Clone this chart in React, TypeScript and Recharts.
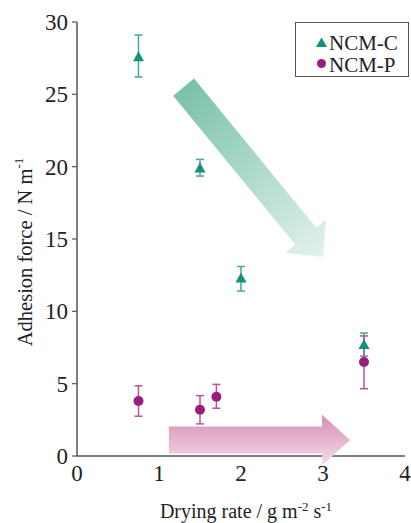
import React from 'react';
import { ScatterChart, Scatter, XAxis, YAxis, ErrorBar, ReferenceArea, Legend } from 'recharts';

// ---- data ----
const seriesNames = ['NCM-C', 'NCM-P'];
const ncmCX = [0.75, 1.5, 2.0, 3.5];
const ncmCY = [27.6, 19.9, 12.3, 7.7];
const ncmCErrLow = [1.4, 0.55, 0.9, 0.8];
const ncmCErrHigh = [1.5, 0.6, 0.8, 0.8];
const ncmPX = [0.75, 1.5, 1.7, 3.5];
const ncmPY = [3.8, 3.2, 4.1, 6.5];
const ncmPErrLow = [1.05, 0.98, 0.8, 1.85];
const ncmPErrHigh = [1.05, 0.97, 0.85, 1.8];
const xTicks = [0, 1, 2, 3, 4];
const yTicks = [0, 5, 10, 15, 20, 25, 30];
// annotation arrows (data units)
const tealArrow = { x1: 1.3, y1: 25.5, x2: 3.0, y2: 13.75 };
const pinkArrow = { x1: 1.12, y1: 2.85, x2: 3.33, y2: -0.65 };

const tealColor = '#14937c';
const tealErr = '#45a896';
const magColor = '#9b1b80';
const magErr = '#b5559c';
const font = '"Liberation Serif", "Times New Roman", serif';

const build = (xs: number[], ys: number[], lo: number[], hi: number[]) =>
  xs.map((x, i) => ({ x, y: ys[i], err: [lo[i], hi[i]] }));
const dataC = build(ncmCX, ncmCY, ncmCErrLow, ncmCErrHigh);
const dataP = build(ncmPX, ncmPY, ncmPErrLow, ncmPErrHigh);

const Triangle = (p: any) => {
  const { cx, cy } = p;
  if (cx == null || cy == null) return null;
  return <polygon points={`${cx - 5.5},${cy + 4.5} ${cx + 5.5},${cy + 4.5} ${cx},${cy - 5.5}`} fill={tealColor} />;
};
const Dot = (p: any) => {
  const { cx, cy } = p;
  if (cx == null || cy == null) return null;
  return <circle cx={cx} cy={cy} r={5} fill={magColor} />;
};

function arrowPoints(sx: number, sy: number, tx: number, ty: number, sh: number, hh: number, hl: number) {
  const dx = tx - sx, dy = ty - sy;
  const L = Math.hypot(dx, dy);
  const ux = dx / L, uy = dy / L;
  const nx = -uy, ny = ux;
  const bx = tx - ux * hl, by = ty - uy * hl;
  const pts = [
    [sx + nx * sh, sy + ny * sh],
    [bx + nx * sh, by + ny * sh],
    [bx + nx * hh, by + ny * hh],
    [tx, ty],
    [bx - nx * hh, by - ny * hh],
    [bx - nx * sh, by - ny * sh],
    [sx - nx * sh, sy - ny * sh],
  ];
  return pts.map((p) => `${p[0]},${p[1]}`).join(' ');
}

const TealArrowShape = (p: any) => {
  const { x, y, width, height } = p;
  const sx = x, sy = y, tx = x + width, ty = y + height;
  return (
    <g>
      <defs>
        <linearGradient id="tealGrad" gradientUnits="userSpaceOnUse" x1={sx} y1={sy} x2={tx} y2={ty}>
          <stop offset="0%" stopColor="#7ac1ac" />
          <stop offset="100%" stopColor="#e2f2ed" />
        </linearGradient>
      </defs>
      <polygon points={arrowPoints(sx, sy, tx, ty, 13.5, 26, 27)} fill="url(#tealGrad)" />
    </g>
  );
};

const PinkArrowShape = (p: any) => {
  const { x, y, width, height } = p;
  const cy = y + height / 2;
  return (
    <g>
      <defs>
        <linearGradient id="pinkGrad" gradientUnits="userSpaceOnUse" x1={0} y1={y} x2={0} y2={y + height}>
          <stop offset="0%" stopColor="#d48fb6" />
          <stop offset="100%" stopColor="#f5dde9" />
        </linearGradient>
      </defs>
      <polygon points={arrowPoints(x, cy, x + width, cy, 13.5, height / 2, 28)} fill="url(#pinkGrad)" />
    </g>
  );
};

const LegendBox = () => (
  <svg width={114} height={55} style={{ display: 'block' }}>
    <rect x={0.5} y={0.5} width={113} height={54} fill="#fff" stroke="#555" strokeWidth={1} />
    <polygon points="21,25 32,25 26.5,15.5" fill={tealColor} />
    <text x={34} y={27.5} fontFamily={font} fontSize={21} fill="#222">{seriesNames[0]}</text>
    <circle cx={26.5} cy={41.5} r={4.5} fill={magColor} />
    <text x={34} y={49.5} fontFamily={font} fontSize={21} fill="#222">{seriesNames[1]}</text>
  </svg>
);

const XTitle = (p: any) => {
  const vb = p.viewBox || {};
  const cx = vb.x + vb.width / 2 + 5;
  const y = vb.y + 62;
  return (
    <text x={cx} y={y} textAnchor="middle" fontFamily={font} fontSize={20} fill="#222">
      <tspan>Drying rate / g m</tspan>
      <tspan dy={-7} fontSize={13}>-2</tspan>
      <tspan dy={7}> s</tspan>
      <tspan dy={-7} fontSize={13}>-1</tspan>
    </text>
  );
};

const YTitle = (p: any) => {
  const vb = p.viewBox || {};
  const cx = vb.x + 25;
  const cy = vb.y + vb.height / 2 + 13;
  return (
    <text x={cx} y={cy} textAnchor="middle" fontFamily={font} fontSize={20.5} fill="#222"
      transform={`rotate(-90, ${cx}, ${cy})`} dominantBaseline="central">
      <tspan>Adhesion force / N m</tspan>
      <tspan dy={-7} fontSize={13}>-1</tspan>
    </text>
  );
};

export default function App() {
  return (
    <div style={{ position: 'absolute', left: 0, top: 0, background: '#fff', fontFamily: font }}>
      <ScatterChart width={411} height={523} margin={{ top: 22, right: 6, bottom: 0, left: 0 }} style={{ fontFamily: font }}>
        <XAxis
          type="number"
          dataKey="x"
          domain={[0, 4]}
          ticks={xTicks}
          height={67}
          tickLine={false}
          tickSize={8}
          tickMargin={1}
          axisLine={{ stroke: '#555', strokeWidth: 1.5 }}
          tick={{ fill: '#222', fontSize: 23, fontFamily: font }}
          label={<XTitle />}
        />
        <YAxis
          type="number"
          dataKey="y"
          domain={[0, 30]}
          ticks={yTicks}
          width={77}
          tickSize={5}
          tickMargin={4}
          axisLine={{ stroke: '#555', strokeWidth: 1.5 }}
          tickLine={{ stroke: '#555', strokeWidth: 1.2 }}
          tick={{ fill: '#222', fontSize: 23, fontFamily: font }}
          label={<YTitle />}
        />
        <ReferenceArea x1={tealArrow.x1} x2={tealArrow.x2} y1={tealArrow.y1} y2={tealArrow.y2}
          ifOverflow="visible" shape={(p: any) => <TealArrowShape {...p} />} />
        <ReferenceArea x1={pinkArrow.x1} x2={pinkArrow.x2} y1={pinkArrow.y1} y2={pinkArrow.y2}
          ifOverflow="visible" zIndex={550} shape={(p: any) => <PinkArrowShape {...p} />} />
        <Legend
          layout="vertical"
          align="center"
          verticalAlign="middle"
          wrapperStyle={{ left: 295, top: 22, width: 114, height: 55 }}
          content={() => <LegendBox />}
        />
        <Scatter name={seriesNames[0]} data={dataC} fill={tealColor} shape={<Triangle />} isAnimationActive={false}>
          <ErrorBar dataKey="err" direction="y" width={4} stroke={tealErr} strokeWidth={1.5} />
        </Scatter>
        <Scatter name={seriesNames[1]} data={dataP} fill={magColor} shape={<Dot />} isAnimationActive={false}>
          <ErrorBar dataKey="err" direction="y" width={4} stroke={magErr} strokeWidth={1.5} />
        </Scatter>
      </ScatterChart>
    </div>
  );
}
